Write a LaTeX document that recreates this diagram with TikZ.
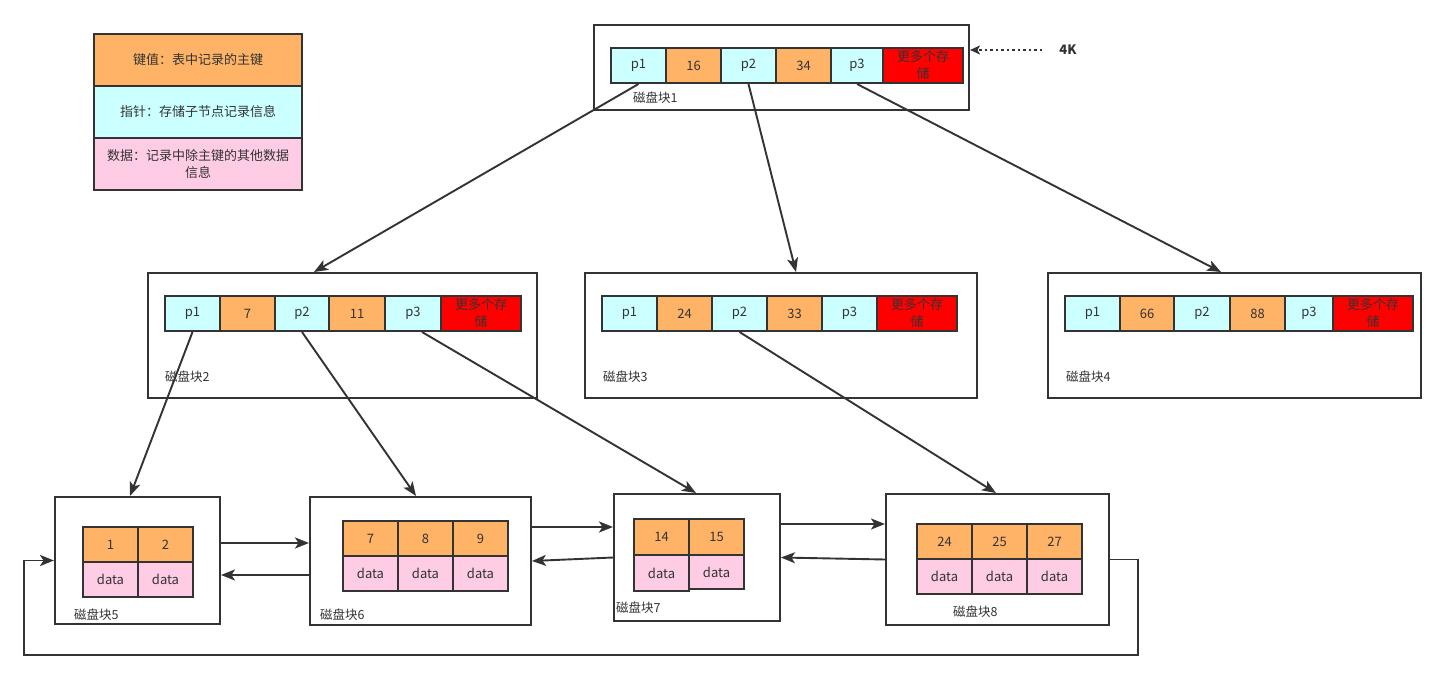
\documentclass[tikz,border=0pt]{standalone}
\usepackage{fontspec}
\setmainfont{Noto Sans CJK SC}
\usetikzlibrary{arrows.meta,calc}
\definecolor{kc}{HTML}{FFB366}
\definecolor{pc}{HTML}{CCFFFF}
\definecolor{dc}{HTML}{FFCCE6}
\definecolor{rc}{HTML}{FF0000}
\definecolor{ln}{HTML}{333333}
\newcommand\mycell[7]{\node[#2, minimum width={(#5-#3)*1pt}, minimum height={(#6-#4)*1pt}] (#1) at ({(#3+#5)/2},{(#4+#6)/2}) {#7};}
\tikzset{
  cellbase/.style={draw=ln, line width=2pt, inner sep=0pt, text=ln, font=\fontsize{13}{17}\selectfont, align=center},
  kcell/.style={cellbase, fill=kc},
  pcell/.style={cellbase, fill=pc},
  dcell/.style={cellbase, fill=dc},
  rcell/.style={cellbase, fill=rc},
  blockbox/.style={draw=ln, line width=2pt, fill=white, inner sep=0pt},
  lbl/.style={anchor=west, text=ln, inner sep=0pt, font=\fontsize{12.5}{15}\selectfont},
  arr/.style={draw=ln, line width=1.9pt, -{Stealth[length=14pt,width=11pt,inset=3.5pt]}},
}
\begin{document}
\begin{tikzpicture}[x=1pt,y=-1pt]
\fill[white] (0,0) rectangle (1447,679);
\useasboundingbox (0,0) rectangle (1447,679);

% legend
\mycell{leg1}{kcell}{94}{34}{302}{86}{键值：表中记录的主键}
\mycell{leg2}{pcell}{94}{86}{302}{138}{指针：存储子节点记录信息}
\mycell{leg3}{dcell}{94}{138}{302}{190}{数据：记录中除主键的其他数据\\信息}

% outer blocks
\mycell{blk1}{blockbox}{594}{25}{969}{110}{}
\mycell{blk2}{blockbox}{148}{273}{537}{398}{}
\mycell{blk3}{blockbox}{585}{273}{977}{398}{}
\mycell{blk4}{blockbox}{1048}{273}{1421}{398}{}
\mycell{blk5}{blockbox}{55}{497}{220}{624}{}
\mycell{blk6}{blockbox}{310}{497}{531}{625}{}
\mycell{blk7}{blockbox}{614}{494}{780}{621}{}
\mycell{blk8}{blockbox}{886}{494}{1109}{625}{}

% block 1
\mycell{b1p1}{pcell}{611}{48}{666}{83}{p1}
\mycell{b1k1}{kcell}{666}{48}{721}{83}{16}
\mycell{b1p2}{pcell}{721}{48}{776}{83}{p2}
\mycell{b1k2}{kcell}{776}{48}{831}{83}{34}
\mycell{b1p3}{pcell}{831}{48}{883}{83}{p3}
\mycell{b1m}{rcell}{883}{48}{963}{83}{更多个存\\储}
% block 2
\mycell{b2p1}{pcell}{165}{296}{220}{331}{p1}
\mycell{b2k1}{kcell}{220}{296}{275}{331}{7}
\mycell{b2p2}{pcell}{275}{296}{329}{331}{p2}
\mycell{b2k2}{kcell}{329}{296}{385}{331}{11}
\mycell{b2p3}{pcell}{385}{296}{441}{331}{p3}
\mycell{b2m}{rcell}{441}{296}{521}{331}{更多个存\\储}
% block 3
\mycell{b3p1}{pcell}{602}{296}{657}{331}{p1}
\mycell{b3k1}{kcell}{657}{296}{712}{331}{24}
\mycell{b3p2}{pcell}{712}{296}{767}{331}{p2}
\mycell{b3k2}{kcell}{767}{296}{822}{331}{33}
\mycell{b3p3}{pcell}{822}{296}{877}{331}{p3}
\mycell{b3m}{rcell}{877}{296}{957}{331}{更多个存\\储}
% block 4
\mycell{b4p1}{pcell}{1065}{296}{1120}{331}{p1}
\mycell{b4k1}{kcell}{1120}{296}{1174}{331}{66}
\mycell{b4p2}{pcell}{1174}{296}{1230}{331}{p2}
\mycell{b4k2}{kcell}{1230}{296}{1285}{331}{88}
\mycell{b4p3}{pcell}{1285}{296}{1333}{331}{p3}
\mycell{b4m}{rcell}{1333}{296}{1413}{331}{更多个存\\储}
% block 5
\mycell{b5k1}{kcell}{83}{527}{138}{562}{1}
\mycell{b5k2}{kcell}{138}{527}{193}{562}{2}
\mycell{b5d1}{dcell}{83}{562}{138}{597}{data}
\mycell{b5d2}{dcell}{138}{562}{193}{597}{data}
% block 6
\mycell{b6k1}{kcell}{343}{521}{398}{556}{7}
\mycell{b6k2}{kcell}{398}{521}{453}{556}{8}
\mycell{b6k3}{kcell}{453}{521}{508}{556}{9}
\mycell{b6d1}{dcell}{343}{556}{398}{591}{data}
\mycell{b6d2}{dcell}{398}{556}{453}{591}{data}
\mycell{b6d3}{dcell}{453}{556}{508}{591}{data}
% block 7
\mycell{b7k1}{kcell}{634}{519}{689}{555}{14}
\mycell{b7k2}{kcell}{689}{519}{744}{555}{15}
\mycell{b7d1}{dcell}{634}{555}{689}{591}{data}
\mycell{b7d2}{dcell}{689}{555}{744}{589}{data}
% block 8
\mycell{b8k1}{kcell}{917}{524}{972}{559}{24}
\mycell{b8k2}{kcell}{972}{524}{1027}{559}{25}
\mycell{b8k3}{kcell}{1027}{524}{1082}{559}{27}
\mycell{b8d1}{dcell}{917}{559}{972}{594}{data}
\mycell{b8d2}{dcell}{972}{559}{1027}{594}{data}
\mycell{b8d3}{dcell}{1027}{559}{1082}{594}{data}

% labels
\node[lbl] (l1) at (633,98) {磁盘块1};
\node[lbl] (l2) at (165,377) {磁盘块2};
\node[lbl] (l3) at (603,377) {磁盘块3};
\node[lbl] (l4) at (1066,377) {磁盘块4};
\node[lbl] (l5) at (74,615) {磁盘块5};
\node[lbl] (l6) at (320,615) {磁盘块6};
\node[lbl] (l7) at (616,608) {磁盘块7};
\node[lbl] (l8) at (953,612) {磁盘块8};

% 4K
\node[text=ln, inner sep=0pt, font=\bfseries\fontsize{13}{15}\selectfont] (fourk) at (1068,50) {4K};
\draw[draw=ln, line width=2pt, dash pattern=on 2.5pt off 3pt, -{Stealth[length=10pt,width=9pt,inset=2.5pt]}]
  ($(fourk.west)+(-17,0)$) -- ($(blk1.east)+(0,-17.5)$);

% tree connectors
\draw[arr] (b1p1.south) -- ($(blk2.north west)+(167,0)$);
\draw[arr] (b1p2.south) -- ($(blk3.north west)+(212,0)$);
\draw[arr] (b1p3.south) -- ($(blk4.north west)+(174,0)$);
\draw[arr] (b2p1.south) -- ($(blk5.north west)+(76,0)$);
\draw[arr] (b2p2.south) -- ($(blk6.north west)+(107,0)$);
\draw[arr] ($(b2p3.south)+(9,0)$) -- ($(blk7.north west)+(83,0)$);
\draw[arr] (b3p2.south) -- ($(blk8.north west)+(111,0)$);

% leaf links
\draw[arr] ($(blk5.east)+(0,-17.5)$) -- ($(blk6.west)+(0,-18)$);
\draw[arr] ($(blk6.west)+(0,14)$) -- ($(blk5.east)+(0,14.5)$);
\draw[arr] ($(blk6.east)+(0,-34)$) -- ($(blk7.west)+(0,-30.5)$);
\draw[arr] (blk7.west) -- (blk6.east);
\draw[arr] ($(blk7.east)+(0,-33.5)$) -- ($(blk8.west)+(0,-35.5)$);
\draw[arr] (blk8.west) -- (blk7.east);
\coordinate (loopR) at (1138,655);
\coordinate (loopL) at (24,655);
\draw[arr] (blk8.east) -| (loopR) -- (loopL) |- (blk5.west);
\end{tikzpicture}
\end{document}
